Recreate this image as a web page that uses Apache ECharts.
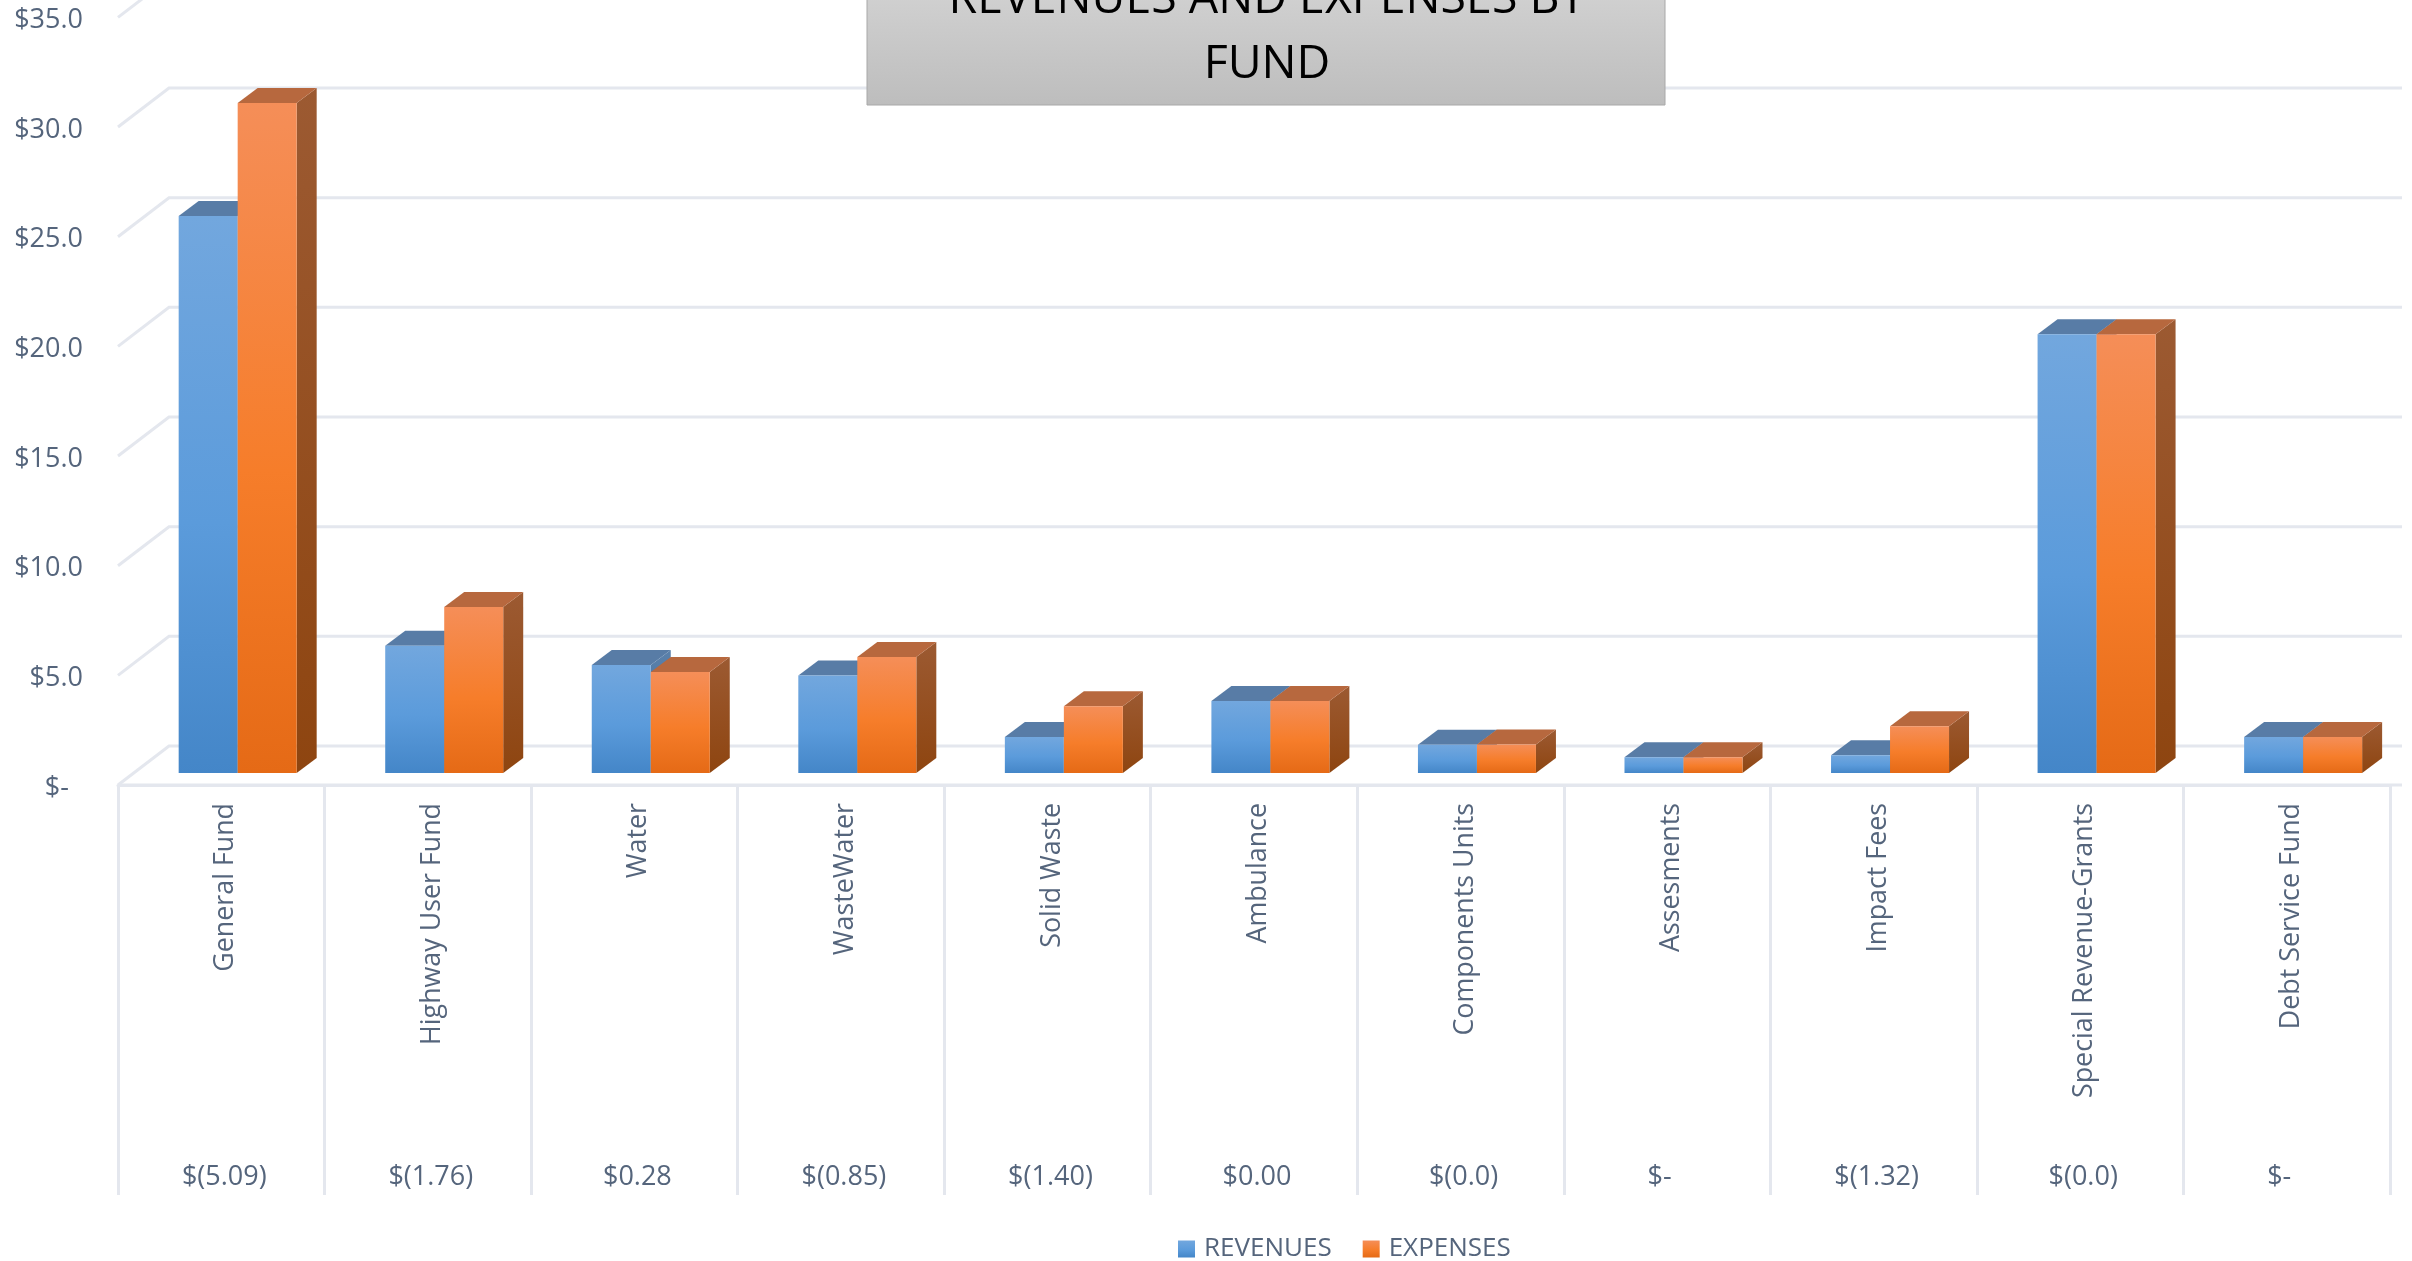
<!DOCTYPE html>
<html>
<head>
<meta charset="utf-8">
<title>Revenues and expenses by fund</title>
<script src="https://cdn.jsdelivr.net/npm/echarts@6/dist/echarts.min.js"></script>
<style>
  html, body { margin: 0; padding: 0; background: #fff; }
  #chart { width: 2412px; height: 1261px; }
</style>
</head>
<body>
<div id="chart"></div>
<script>
const funds = ['General Fund', 'Highway User Fund', 'Water', 'WasteWater', 'Solid Waste', 'Ambulance',
  'Components Units', 'Assesments', 'Impact Fees', 'Special Revenue-Grants', 'Debt Service Fund']
const variances = ['$(5.09)', '$(1.76)', '$0.28', '$(0.85)', '$(1.40)', '$0.00', '$(0.0)', '$-', '$(1.32)', '$(0.0)', '$-']
const revenues = [25.4, 5.8, 4.92, 4.45, 1.64, 3.28, 1.29, 0.72, 0.81, 20.0, 1.64]
const expenses = [30.55, 7.57, 4.6, 5.29, 3.04, 3.28, 1.3, 0.72, 2.13, 20.0, 1.64]
const ticks = [0, 5, 10, 15, 20, 25, 30, 35]

const textColor = '#55657c'
const gridColor = '#e4e7ee'
const fontFamily = '"Open Sans", sans-serif'

function vertical(top, bottom) {
  return new echarts.graphic.LinearGradient(0, 0, 0, 1, [
    { offset: 0, color: top },
    { offset: 1, color: bottom }
  ])
}

const blue = {
  front: ['#72a7de', '#5b9bdb', '#4486c8'],
  top: '#587ca6',
  side: ['#5a80aa', '#3f6e9f']
}
const orange = {
  front: ['#f58e58', '#f67d2a', '#e56a16'],
  top: '#b7683e',
  side: ['#9c5a32', '#8e4510']
}

function frontFill(c) {
  return new echarts.graphic.LinearGradient(0, 0, 0, 1, [
    { offset: 0, color: c[0] },
    { offset: 0.55, color: c[1] },
    { offset: 1, color: c[2] }
  ])
}

// one 3d column: front face, lid and right side
function barItem(left, right, look) {
  return function (params, api) {
    const i = api.value(0)
    const top = api.coord([i, api.value(1)])
    const base = api.coord([i, 0])
    const x0 = top[0] + left
    const x1 = top[0] + right
    const y0 = top[1] - 12
    const y1 = base[1] - 12
    const dx = 20
    const dy = 15
    return {
      type: 'group',
      children: [
        { type: 'polygon', shape: { points: [[x1, y0], [x1 + dx, y0 - dy], [x1 + dx, y1 - dy], [x1, y1]] },
          style: { fill: vertical(look.side[0], look.side[1]) } },
        { type: 'polygon', shape: { points: [[x0, y0], [x0 + dx, y0 - dy], [x1 + dx, y0 - dy], [x1, y0]] },
          style: { fill: look.top } },
        { type: 'rect', shape: { x: x0, y: y0, width: x1 - x0, height: y1 - y0 },
          style: { fill: frontFill(look.front) } }
      ]
    }
  }
}

// side wall and back wall rules, they sit behind the columns
function gridItem(params, api) {
  const p = api.coord([0, api.value(0)])
  const x = params.coordSys.x
  const end = x + params.coordSys.width + 12
  const line = { stroke: gridColor, lineWidth: 3, fill: 'none' }
  const children = [
    { type: 'polyline', shape: { points: [[x, p[1]], [x + 51, p[1] - 39], [end, p[1] - 39]] }, style: line }
  ]
  if (api.value(0) === 0) {
    children.push({ type: 'line', shape: { x1: x, y1: p[1], x2: end, y2: p[1] }, style: line })
  }
  return { type: 'group', children: children }
}

const chart = echarts.init(document.getElementById('chart'))
chart.setOption({
  animation: false,
  backgroundColor: '#fff',
  textStyle: { fontFamily: fontFamily },
  title: {
    text: 'REVENUES AND EXPENSES BY\nFUND',
    left: 1262,
    top: -38,
    textAlign: 'center',
    z: 30,
    textStyle: { fontFamily: fontFamily, fontSize: 46.5, fontWeight: 'normal', color: '#000', lineHeight: 65 }
  },
  graphic: [{
    type: 'rect',
    z: 20,
    shape: { x: 867, y: -20, width: 798, height: 125 },
    style: { fill: vertical('#d3d3d3', '#bdbdbd'), stroke: '#a8a8a8', lineWidth: 1 }
  }],
  legend: {
    data: ['REVENUES', 'EXPENSES'],
    left: 1178,
    top: 1236,
    padding: 0,
    icon: 'rect',
    itemWidth: 17,
    itemHeight: 17,
    itemGap: 31,
    textStyle: { fontFamily: fontFamily, fontSize: 26, color: textColor, padding: [0, 0, 0, 4] }
  },
  grid: { left: 118, top: 17.4, width: 2272, height: 767.6 },
  xAxis: [
    {
      type: 'category',
      data: funds,
      axisLine: { show: true, lineStyle: { color: gridColor, width: 3 } },
      axisTick: { show: true, interval: 0, length: 410, lineStyle: { color: gridColor, width: 3 } },
      axisLabel: {
        interval: 0,
        rotate: 90,
        margin: 18,
        fontSize: 26.8,
        color: textColor,
        fontFamily: fontFamily,
        verticalAlign: 'top',
        lineHeight: 9
      }
    },
    {
      type: 'category',
      position: 'bottom',
      data: variances,
      axisLine: { show: false },
      axisTick: { show: false },
      axisLabel: {
        interval: 0,
        margin: 379,
        fontSize: 27,
        color: textColor,
        fontFamily: fontFamily,
        padding: [0, 0, 0, 6],
        formatter: v => (v === '$-' ? v + '   ' : v)
      }
    }
  ],
  yAxis: {
    type: 'value',
    min: 0,
    max: 35,
    interval: 5,
    splitLine: { show: false },
    axisLine: { show: false },
    axisTick: { show: false },
    axisLabel: {
      margin: 35,
      fontSize: 27,
      color: textColor,
      fontFamily: fontFamily,
      verticalAlign: 'top',
      lineHeight: 6,
      formatter: v => (v === 0 ? '$-  ' : '$' + v.toFixed(1))
    }
  },
  series: [
    {
      type: 'custom',
      name: 'rules',
      silent: true,
      clip: false,
      z: 1,
      data: ticks.map(t => [t]),
      encode: { y: 0 },
      renderItem: gridItem
    },
    {
      type: 'custom',
      name: 'REVENUES',
      clip: false,
      z: 2,
      itemStyle: { color: frontFill(blue.front) },
      data: revenues.map((v, i) => [i, v]),
      encode: { x: 0, y: 1 },
      renderItem: barItem(-42.6, 16.4, blue)
    },
    {
      type: 'custom',
      name: 'EXPENSES',
      clip: false,
      z: 3,
      itemStyle: { color: frontFill(orange.front) },
      data: expenses.map((v, i) => [i, v]),
      encode: { x: 0, y: 1 },
      renderItem: barItem(16.4, 75.4, orange)
    }
  ]
})
</script>
</body>
</html>
